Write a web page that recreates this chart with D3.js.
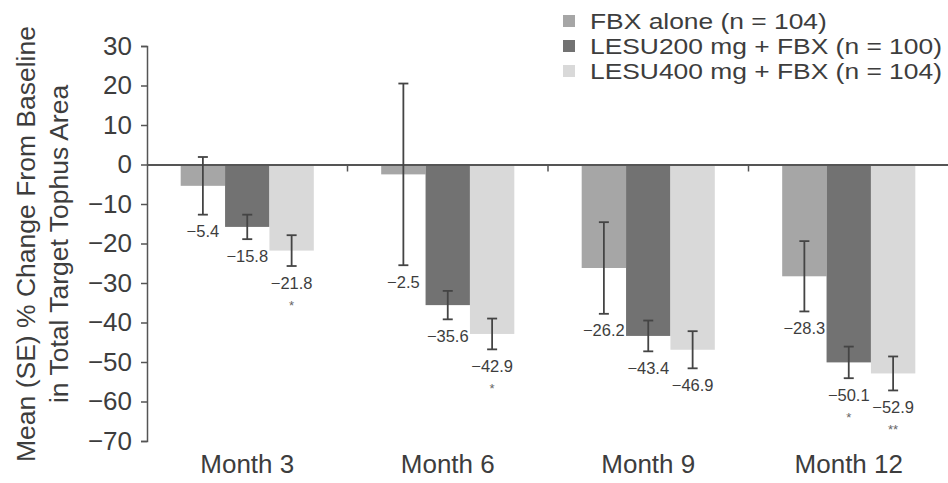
<!DOCTYPE html>
<html>
<head>
<meta charset="utf-8">
<script src="https://cdn.jsdelivr.net/npm/d3@7"></script>
<style>
  html, body { margin: 0; padding: 0; background: #fff; }
  svg { display: block; font-family: "Liberation Sans", Arial, Helvetica, sans-serif; }
</style>
</head>
<body>
<svg id="chart" width="948" height="483"></svg>
<script>
// Visit categories
const months = ["Month 3", "Month 6", "Month 9", "Month 12"];

// Treatment groups
const seriesNames = ["FBX alone (n = 104)", "LESU200 mg + FBX (n = 100)", "LESU400 mg + FBX (n = 104)"];

// Mean % change from baseline
const fbxAlone = [-5.4, -2.5, -26.2, -28.3];
const lesu200 = [-15.8, -35.6, -43.4, -50.1];
const lesu400 = [-21.8, -42.9, -46.9, -52.9];

// Standard errors
const fbxAloneSE = [7.3, 23.0, 11.6, 8.9];
const lesu200SE = [3.1, 3.6, 3.9, 4.0];
const lesu400SE = [3.9, 3.9, 4.7, 4.3];

// Significance markers
const fbxAloneSig = ["", "", "", ""];
const lesu200Sig = ["", "", "", "*"];
const lesu400Sig = ["*", "*", "", "**"];

// Y axis ticks
const yTicks = [30, 20, 10, 0, -10, -20, -30, -40, -50, -60, -70];

const colors = ["#a6a6a6", "#727272", "#d9d9d9"];
const textColor = "#3d3d3d";

const series = [
  { name: seriesNames[0], values: fbxAlone, se: fbxAloneSE, sig: fbxAloneSig, color: colors[0] },
  { name: seriesNames[1], values: lesu200, se: lesu200SE, sig: lesu200Sig, color: colors[1] },
  { name: seriesNames[2], values: lesu400, se: lesu400SE, sig: lesu400Sig, color: colors[2] }
];

const rows = [];
series.forEach((s, si) => {
  months.forEach((m, mi) => {
    rows.push({ month: m, key: s.name, si, value: s.values[mi], se: s.se[mi], sig: s.sig[mi], color: s.color });
  });
});

const svg = d3.select("#chart");
const fmt = v => (v < 0 ? "\u2212" : "") + Math.abs(v).toFixed(1);
const tickFmt = v => (v < 0 ? "\u2212" : "") + Math.abs(v);

const y = d3.scaleLinear().domain([-70, 30]).range([441, 46]);
const x0 = d3.scaleBand().domain(months).range([147, 949]).padding(0);
const groupW = x0.bandwidth() * 0.664;
const x1 = d3.scaleBand().domain(seriesNames).range([0, groupW]).padding(0);
const groupOffset = (x0.bandwidth() - groupW) / 2;

// Bars
const g = svg.append("g");
g.selectAll("rect.bar")
  .data(rows)
  .join("rect")
  .attr("class", "bar")
  .attr("x", d => x0(d.month) + groupOffset + x1(d.key))
  .attr("width", x1.bandwidth())
  .attr("y", d => Math.min(y(d.value), y(0)))
  .attr("height", d => Math.abs(y(d.value) - y(0)))
  .attr("fill", d => d.color);

// Zero line with category separators
const xAxis = d3.axisBottom(x0).tickSize(0).tickFormat("");
const xg = svg.append("g").attr("transform", `translate(0,${y(0)})`).call(xAxis);
xg.select(".domain").attr("stroke", "#555").attr("stroke-width", 2);
xg.selectAll(".tick").remove();
xg.selectAll("line.sep")
  .data(months.slice(1))
  .join("line")
  .attr("class", "sep")
  .attr("x1", d => x0(d)).attr("x2", d => x0(d))
  .attr("y1", 0).attr("y2", 7)
  .attr("stroke", "#555").attr("stroke-width", 1.5);

// Error bars
const cx = d => x0(d.month) + groupOffset + x1(d.key) + x1.bandwidth() / 2;
const eb = svg.append("g").attr("stroke", "#444").attr("stroke-width", 1.8);
rows.forEach(d => {
  const c = cx(d), hi = y(d.value + d.se), lo = y(d.value - d.se);
  eb.append("line").attr("x1", c).attr("x2", c).attr("y1", hi).attr("y2", lo);
  eb.append("line").attr("x1", c - 5).attr("x2", c + 5).attr("y1", hi).attr("y2", hi);
  eb.append("line").attr("x1", c - 5).attr("x2", c + 5).attr("y1", lo).attr("y2", lo);
});

// Value labels beneath error bars
svg.append("g").selectAll("text")
  .data(rows)
  .join("text")
  .attr("x", d => cx(d))
  .attr("y", d => y(d.value - d.se) + 22.5)
  .attr("text-anchor", "middle")
  .attr("font-size", 16.5)
  .attr("fill", textColor)
  .text(d => fmt(d.value));

// Significance markers
svg.append("g").selectAll("text")
  .data(rows.filter(d => d.sig))
  .join("text")
  .attr("x", d => cx(d))
  .attr("y", d => y(d.value - d.se) + 22.5 + 21.5)
  .attr("text-anchor", "middle")
  .attr("font-size", 13)
  .attr("fill", "#666")
  .text(d => d.sig);

// Y axis
const yAxis = d3.axisLeft(y).tickValues(yTicks).tickSize(6).tickPadding(9).tickFormat(tickFmt);
const yg = svg.append("g").attr("transform", "translate(147,0)").call(yAxis);
yg.select(".domain").attr("stroke", "#555").attr("stroke-width", 1.5);
yg.selectAll(".tick line").attr("stroke", "#555").attr("stroke-width", 1.5);
yg.selectAll(".tick text").attr("font-size", 26).attr("fill", textColor)
  .attr("font-family", "Liberation Sans, Arial, sans-serif");

// Month labels
svg.append("g").selectAll("text")
  .data(months)
  .join("text")
  .attr("x", d => x0(d) + x0.bandwidth() / 2)
  .attr("y", 473)
  .attr("text-anchor", "middle")
  .attr("font-size", 26)
  .attr("fill", textColor)
  .text(d => d);

// Y axis title
const title = svg.append("g").attr("transform", "translate(0,244) rotate(-90)")
  .attr("font-size", 26.5).attr("fill", textColor).attr("text-anchor", "middle");
title.append("text").attr("x", 0).attr("y", 35).text("Mean (SE) % Change From Baseline");
title.append("text").attr("x", 0).attr("y", 68).text("in Total Target Tophus Area");

// Legend (wide-set text, compact rows)
const lg = svg.append("g").attr("transform", "translate(563,0)");
series.forEach((s, i) => {
  const cy = 21 + i * 25;
  lg.append("rect").attr("x", 0).attr("y", cy - 6).attr("width", 12).attr("height", 12).attr("fill", s.color);
  lg.append("text").attr("transform", `translate(27,${cy + 7.5}) scale(1.2,1)`)
    .attr("font-size", 22).attr("fill", textColor).text(s.name);
});
</script>
</body>
</html>
